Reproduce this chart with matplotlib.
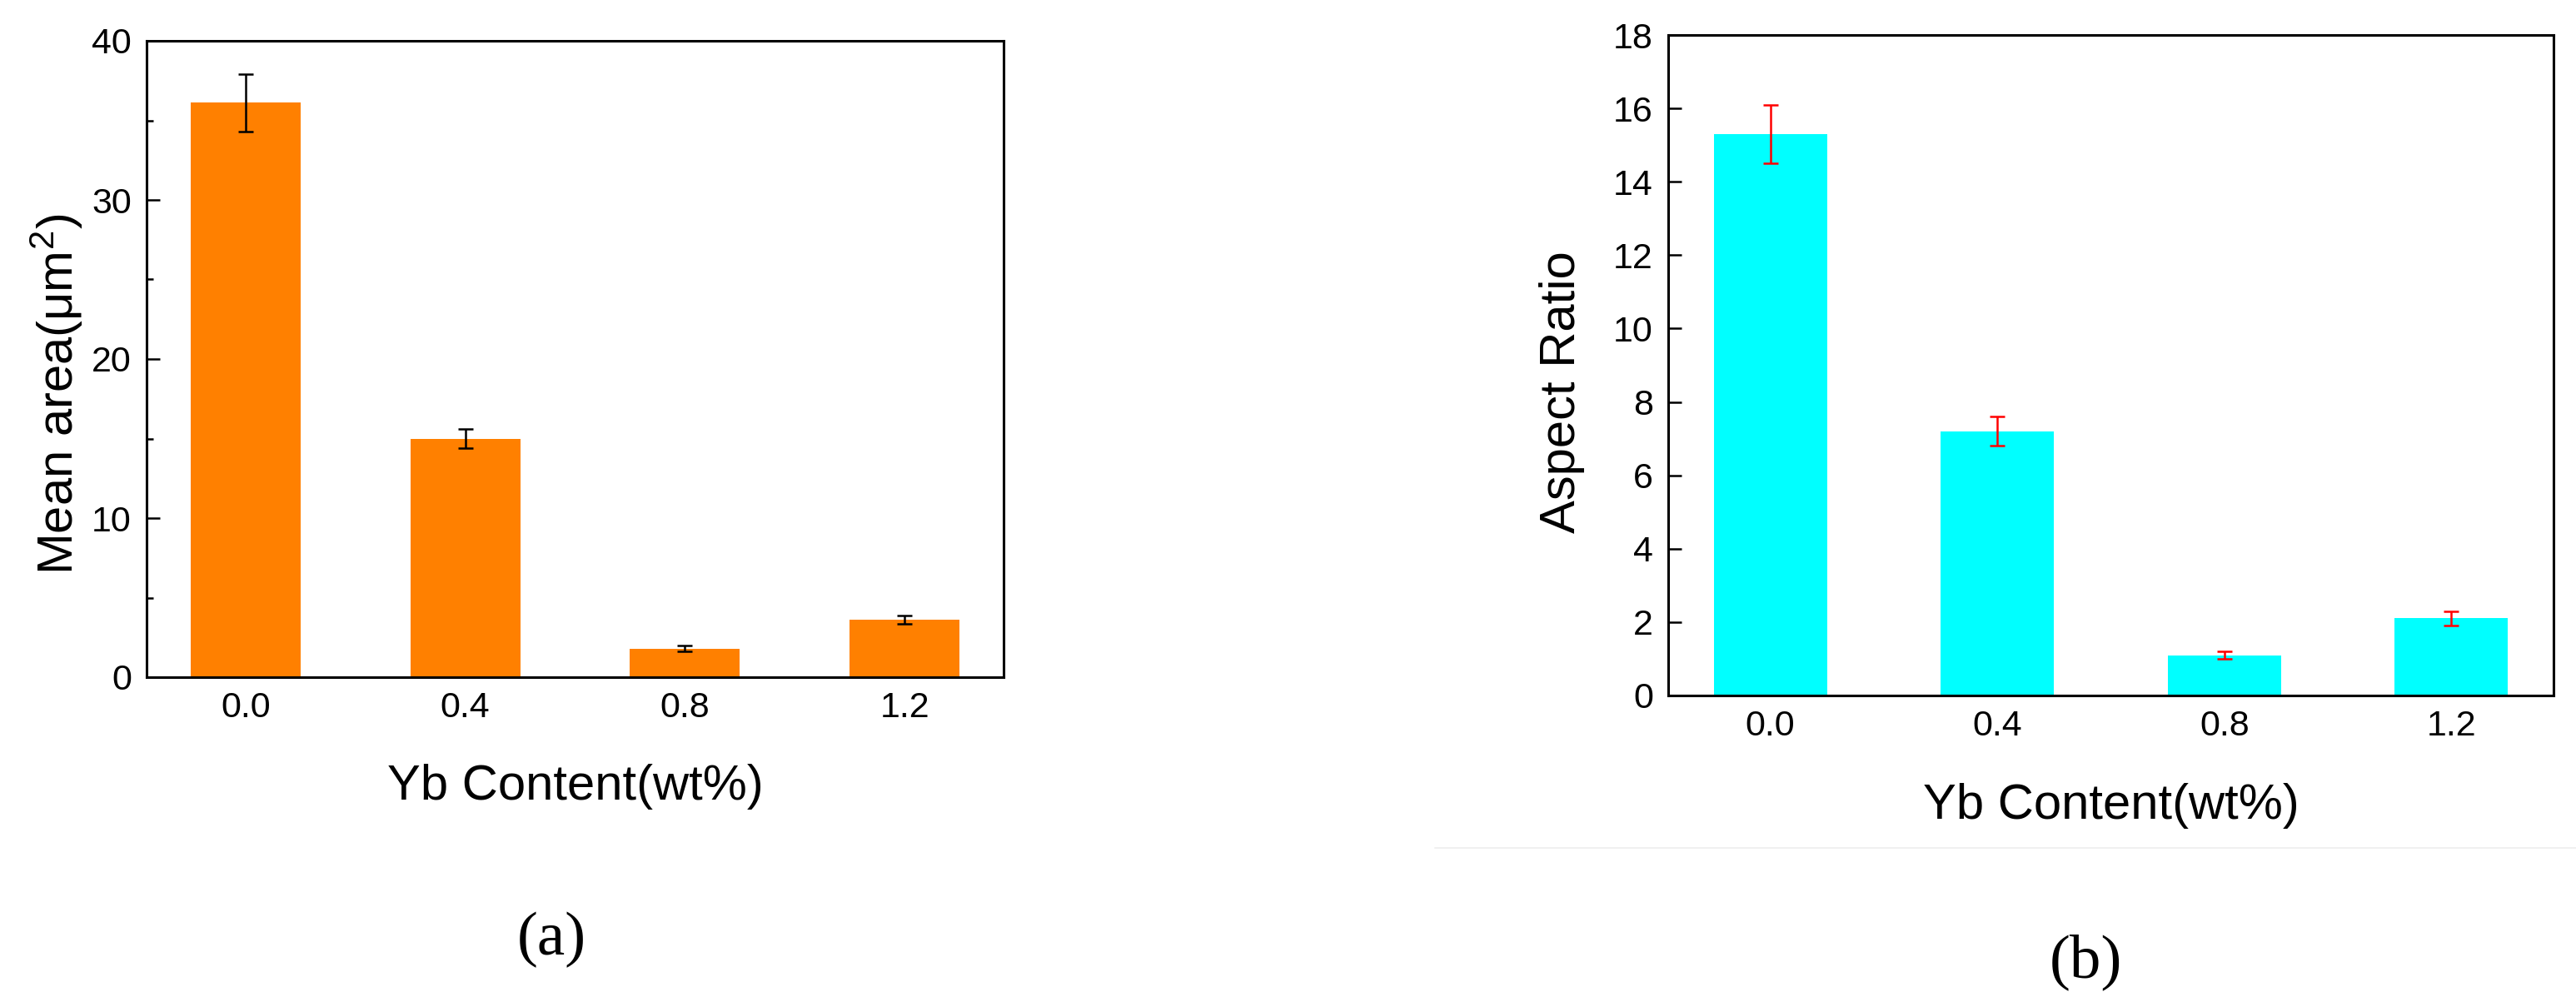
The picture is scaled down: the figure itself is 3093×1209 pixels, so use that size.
import numpy as np
import matplotlib
matplotlib.use("Agg")
import matplotlib.pyplot as plt
from matplotlib.lines import Line2D

plt.rcParams['font.family'] = ['Liberation Sans', 'DejaVu Sans']
plt.rcParams['mathtext.fontset'] = 'custom'
plt.rcParams['mathtext.rm'] = 'Liberation Sans'
plt.rcParams['mathtext.it'] = 'Liberation Sans:italic'

# Yb content (wt%) categories
yb_content = ['0.0', '0.4', '0.8', '1.2']

# (a) mean grain area, um^2
mean_area = [36.1, 15.0, 1.8, 3.6]
mean_area_err = [1.8, 0.6, 0.2, 0.25]

# (b) aspect ratio
aspect_ratio = [15.3, 7.2, 1.1, 2.1]
aspect_ratio_err = [0.8, 0.4, 0.1, 0.2]

W, H = 3093, 1209
fig = plt.figure(figsize=(W / 100, H / 100), dpi=100)


def style_axes(ax):
    for s in ax.spines.values():
        s.set_linewidth(2.2)
    ax.tick_params(axis='both', which='major', direction='in', length=11.5,
                   width=1.8, labelsize=31, top=False, right=False)
    ax.tick_params(axis='y', which='major', pad=13)
    ax.tick_params(axis='x', which='major', pad=12)
    ax.tick_params(axis='y', which='minor', direction='in', length=6,
                   width=1.8, right=False)


def bar_panel(ax, vals, errs, color, ecolor):
    x = np.arange(len(yb_content))
    ax.bar(x, vals, width=0.5, color=color, edgecolor='none', zorder=2)
    ax.errorbar(x, vals, yerr=errs, fmt='none', ecolor=ecolor,
                elinewidth=1.8, capsize=6.5, capthick=1.8, zorder=3)
    ax.set_xticks(x)
    ax.set_xticklabels(yb_content)
    ax.set_xlim(-0.45, len(x) - 1 + 0.45)


# ---- (a) ----
ax1 = fig.add_axes([176 / W, 1 - 813 / H, (1205 - 176) / W, (813 - 49) / H])
bar_panel(ax1, mean_area, mean_area_err, '#FF8000', 'black')
ax1.set_ylim(0, 40)
ax1.set_yticks([0, 10, 20, 30, 40])
ax1.set_yticks([5, 15, 25, 35], minor=True)
style_axes(ax1)
ax1.tick_params(axis='x', which='minor', bottom=False)
ax1.set_ylabel('Mean area(μm$^{2}$)', fontsize=43)
ax1.yaxis.set_label_coords(-0.072, 0.445)
ax1.set_xlabel('Yb Content(wt%)', fontsize=43)
ax1.xaxis.set_label_coords(0.5, -0.136)

# ---- (b) ----
ax2 = fig.add_axes([2003 / W, 1 - 835 / H, (3066 - 2003) / W, (835 - 42) / H])
bar_panel(ax2, aspect_ratio, aspect_ratio_err, '#00FFFF', 'red')
ax2.set_ylim(0, 18)
ax2.set_yticks(np.arange(0, 19, 2))
style_axes(ax2)
ax2.minorticks_off()
ax2.set_ylabel('Aspect Ratio', fontsize=43)
ax2.yaxis.set_label_coords(-0.094, 0.46)
ax2.set_xlabel('Yb Content(wt%)', fontsize=43)
ax2.xaxis.set_label_coords(0.5, -0.133)

# faint separator line under panel (b)
fig.add_artist(Line2D([1723 / W, 1.0], [1 - 1018 / H, 1 - 1018 / H],
                      transform=fig.transFigure, color='#EEEEEE', lw=1.2))

# panel letters
fig.text(662 / W, 1 - 1128 / H, '(a)', ha='center', va='center',
         fontsize=54, family=['Liberation Serif', 'DejaVu Serif'])
fig.text(2504 / W, 1 - 1155 / H, '(b)', ha='center', va='center',
         fontsize=54, family=['Liberation Serif', 'DejaVu Serif'])

fig.savefig('out.png', dpi=100, facecolor='white')
